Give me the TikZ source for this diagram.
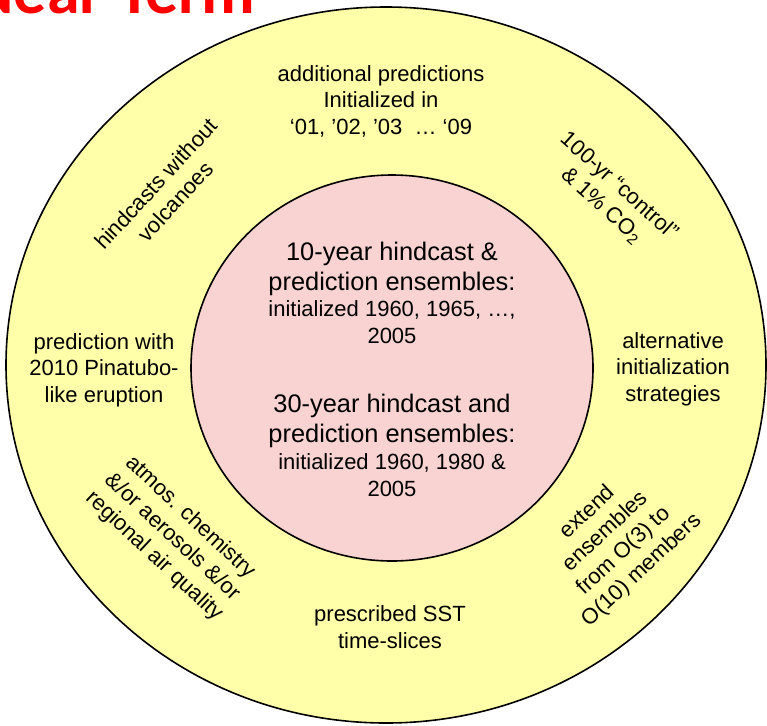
\documentclass[tikz,border=0pt]{standalone}
\usepackage{fontspec}
\setmainfont{Liberation Sans}
\newfontfamily\titlefont{Carlito}
\definecolor{ringyellow}{RGB}{255,255,170}
\definecolor{corepink}{RGB}{249,210,210}

\begin{document}
\begin{tikzpicture}[x=1pt,y=-1pt,
	lbl/.style={align=center,font=\fontsize{22}{26.5}\selectfont},
	big/.style={align=center,font=\fontsize{25.4}{30}\selectfont}]
\useasboundingbox (0,0) rectangle (767,725);
\filldraw[fill=ringyellow,line width=1.6pt] (386,365) ellipse [x radius=380,y radius=358];
\filldraw[fill=corepink,line width=1.6pt] (392,368) ellipse [x radius=201,y radius=193];
\path (259,14) node[anchor=base east,text=red,font=\titlefont\bfseries\fontsize{66}{70}\selectfont] (title) {Near Term}
		(381,101) node[lbl] (more) {additional predictions\\Initialized in\\‘01, ’02, ’03~~… ‘09}
		(165.5,192.5) node[lbl,rotate=47] (novolc) {hindcasts without\\volcanoes}
		(610.5,196) node[lbl,rotate=-42] (ctrl) {100-yr “control”\\\& 1\% CO\textsubscript{2}}
		(104,370) node[lbl] (pinat) {prediction with\\2010 Pinatubo-\\like eruption}
		(673,369) node[lbl] (alt) {alternative\\initialization\\strategies}
		(172,537) node[lbl,rotate=-43] (chem) {atmos. chemistry\\\&/or aerosols \&/or\\regional air quality}
		(615,541.5) node[lbl,rotate=43] (ens) {extend\\ensembles\\from O(3) to\\O(10) members}
		(390,627) node[lbl] (sst) {prescribed SST\\time-slices}
		(392,269) node[big] (ten) {10-year hindcast \&\\prediction ensembles:}
		(392,322) node[lbl] (teninit) {initialized 1960, 1965, …,\\2005}
		(392,421) node[big] (thirty) {30-year hindcast and\\prediction ensembles:}
		(392,475) node[lbl] (thirtyinit) {initialized 1960, 1980 \&\\2005};
\end{tikzpicture}
\end{document}
